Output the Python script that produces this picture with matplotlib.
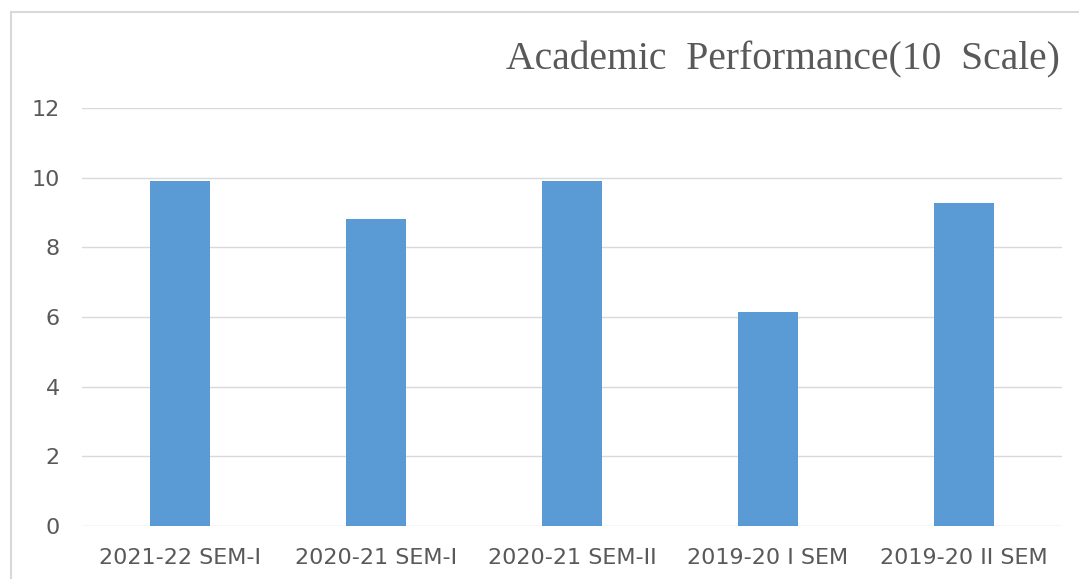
import matplotlib
matplotlib.use("Agg")
from matplotlib import pyplot as plt
from matplotlib.patches import Rectangle
import numpy as np

# datos
semestres = ["2021-22 SEM-I", "2020-21 SEM-I", "2020-21 SEM-II",
             "2019-20 I SEM", "2019-20 II SEM"]
notas = [9.9, 8.8, 9.9, 6.15, 9.28]
yticks = [0, 2, 4, 6, 8, 10, 12]

W, H = 1079, 579
fig = plt.figure(figsize=(W / 100, H / 100), dpi=100)
fig.patch.set_facecolor("white")

# marco gris del grafico
fig.patches.append(Rectangle((11 / W, -0.1), 1.2, 1 - 12 / H + 0.1,
                             transform=fig.transFigure, fill=False,
                             edgecolor="#D9D9D9", linewidth=1.5))

ax = fig.add_axes([82 / W, 1 - 526 / H, (1062 - 82) / W, (526 - 108) / H])
x = np.arange(len(semestres))
ax.bar(x, notas, width=0.31, color="#5B9BD5", zorder=3)

ax.set_xlim(-0.5, len(semestres) - 0.5)
ax.set_ylim(0, 12)
ax.set_yticks(yticks)
ax.set_xticks(x)
ax.set_xticklabels(semestres)
ax.grid(axis="y", color="#D9D9D9", linewidth=1, zorder=0)
for s in ax.spines.values():
    s.set_visible(False)

fuente = ["Liberation Sans Narrow", "DejaVu Sans"]
ax.tick_params(axis="both", length=0, colors="#595959", labelsize=16)
ax.tick_params(axis="y", pad=16)
ax.tick_params(axis="x", pad=16)
for t in ax.get_xticklabels() + ax.get_yticklabels():
    t.set_family(fuente)

fig.text(1060 / W, 1 - 60 / H, "Academic  Performance(10  Scale)",
         ha="right", va="center", fontsize=28.5, color="#595959",
         family=["Liberation Serif", "DejaVu Serif"])

fig.savefig("out.png", dpi=100)
